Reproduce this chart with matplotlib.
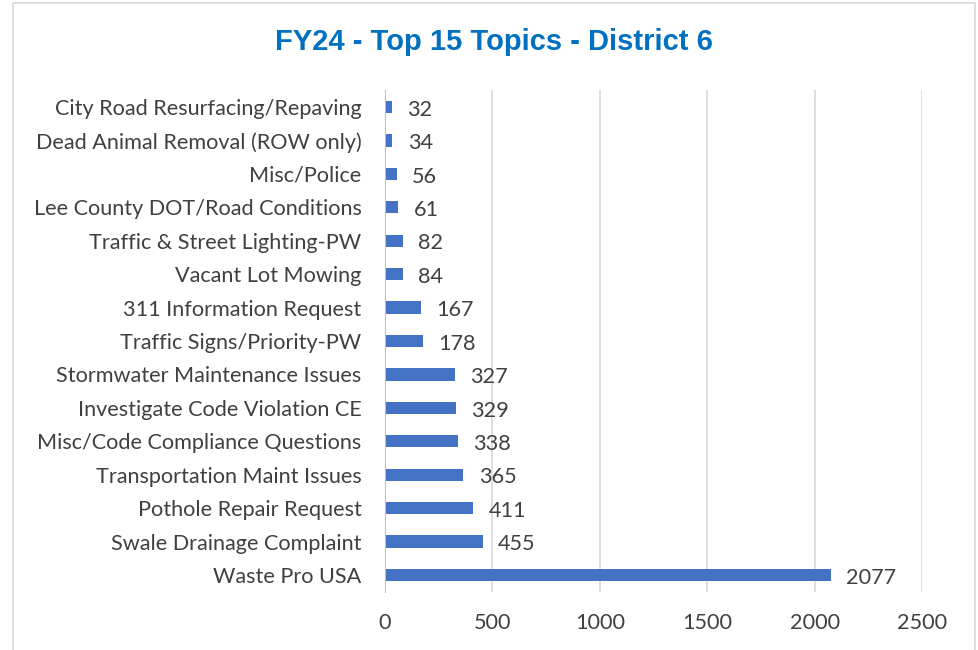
import matplotlib
matplotlib.use("Agg")
import matplotlib.pyplot as plt
from matplotlib.patches import Rectangle

# categories bottom -> top, as drawn
topics = [
    "Waste Pro USA",
    "Swale Drainage Complaint",
    "Pothole Repair Request",
    "Transportation Maint Issues",
    "Misc/Code Compliance Questions",
    "Investigate Code Violation CE",
    "Stormwater Maintenance Issues",
    "Traffic Signs/Priority-PW",
    "311 Information Request",
    "Vacant Lot Mowing",
    "Traffic & Street Lighting-PW",
    "Lee County DOT/Road Conditions",
    "Misc/Police",
    "Dead Animal Removal (ROW only)",
    "City Road Resurfacing/Repaving",
]
counts = [2077, 455, 411, 365, 338, 329, 327, 178, 167, 84, 82, 61, 56, 34, 32]
x_ticks = [0, 500, 1000, 1500, 2000, 2500]

plt.rcParams["font.family"] = ["Lato", "DejaVu Sans"]
TXT = "#404040"
FS = 15.6

fig = plt.figure(figsize=(9.79, 6.5), dpi=100)
fig.patches.append(Rectangle((13 / 979, -0.01), 962 / 979, 1 - 3 / 650 + 0.01,
                             transform=fig.transFigure, fill=False,
                             edgecolor="#D9D9D9", linewidth=1.2))

ax = fig.add_axes([385 / 979, 1 - 591.7 / 650, (922 - 385) / 979, (591.7 - 90.3) / 650])
ypos = range(len(topics))
bars = ax.barh(ypos, counts, height=0.37, color="#4472C4", zorder=3)
for b, c in zip(bars, counts):
    ax.annotate(str(c), (b.get_width(), b.get_y() + b.get_height() / 2),
                xytext=(11, -2), textcoords="offset points",
                ha="left", va="center", fontsize=FS, color=TXT)

ax.set_xlim(0, 2500)
ax.set_ylim(-0.5, len(topics) - 0.5)
ax.set_xticks(x_ticks)
ax.set_yticks(list(ypos))
ax.set_yticklabels(topics)
ax.tick_params(axis="y", length=0, pad=17, labelsize=FS, labelcolor=TXT)
ax.tick_params(axis="x", length=0, pad=15, labelsize=FS, labelcolor=TXT)
ax.grid(axis="x", color="#D9D9D9", linewidth=1.2, zorder=0)
for s in ["top", "right", "bottom"]:
    ax.spines[s].set_visible(False)
ax.spines["left"].set_color("#BFBFBF")
ax.spines["left"].set_zorder(4)

fig.text(494 / 979, 1 - 42 / 650, "FY24 - Top 15 Topics - District 6",
         ha="center", va="center", fontsize=21, fontweight="bold",
         color="#0070C0", family=["Liberation Sans", "DejaVu Sans"])

fig.savefig("out.png", dpi=100)
